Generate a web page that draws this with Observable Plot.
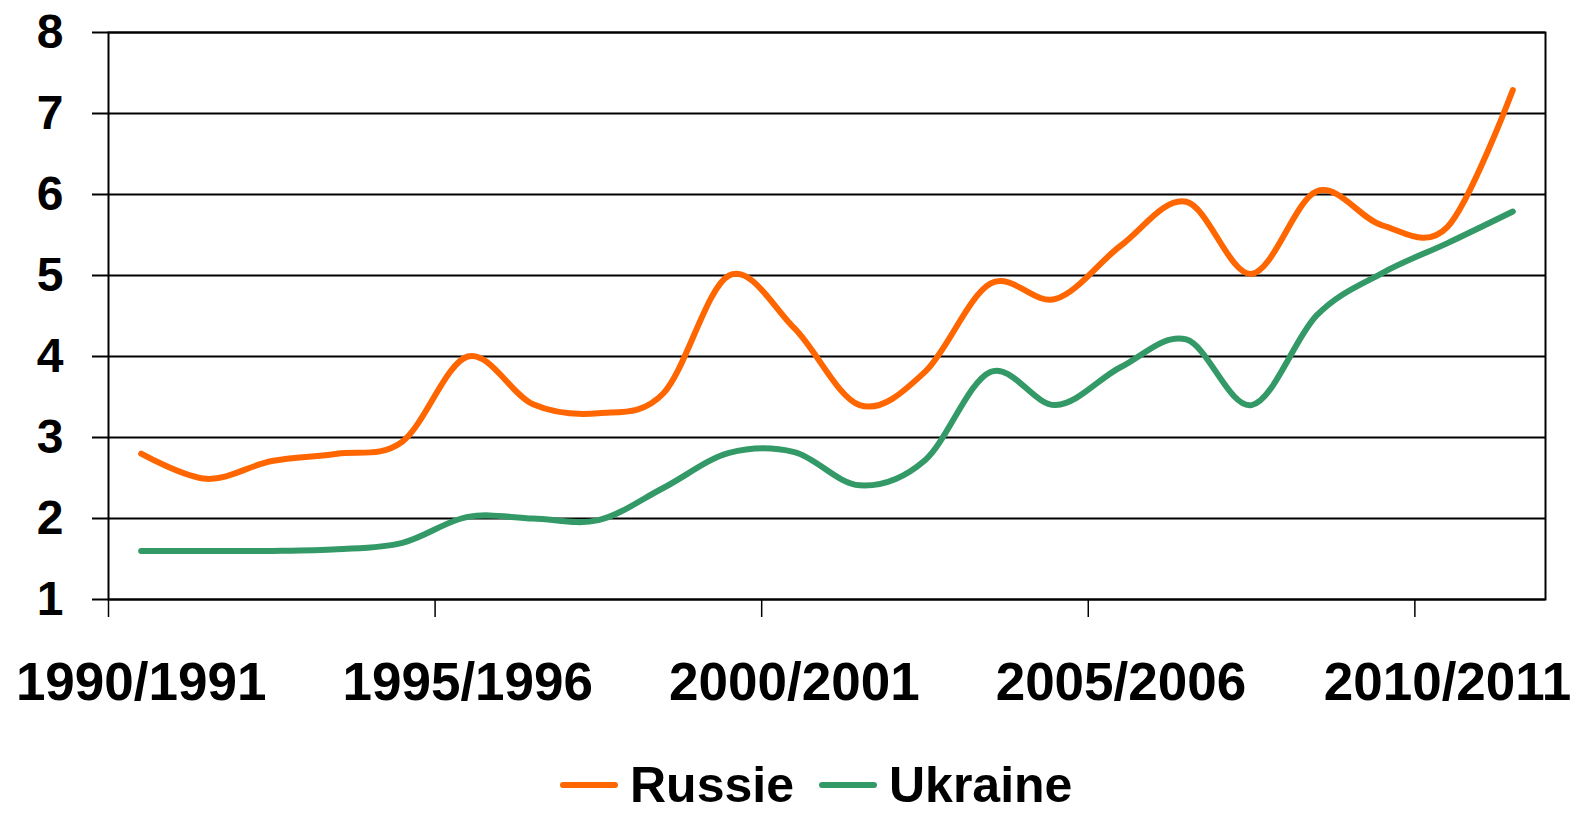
<!DOCTYPE html>
<html>
<head>
<meta charset="utf-8">
<script src="https://cdn.jsdelivr.net/npm/d3@7"></script>
<script src="https://cdn.jsdelivr.net/npm/@observablehq/plot@0.6"></script>
<style>
  html, body { margin: 0; padding: 0; background: #fff; }
  #wrap { position: relative; width: 1576px; height: 815px; overflow: hidden; font-family: "Liberation Sans", Arial, sans-serif; }
  #legend { position: absolute; top: 761px; left: 560px; display: flex; align-items: center; font-size: 50px; font-weight: bold; line-height: 48px; height: 48px; color: #000; white-space: nowrap; }
  .sw { display: inline-block; width: 58px; height: 6px; border-radius: 3px; margin-right: 12px; }
  .item { display: flex; align-items: center; margin-right: 25px; }
</style>
</head>
<body>
<div id="wrap"></div>
<script>
const seasons = ["1990/1991","1991/1992","1992/1993","1993/1994","1994/1995","1995/1996","1996/1997","1997/1998","1998/1999","1999/2000","2000/2001","2001/2002","2002/2003","2003/2004","2004/2005","2005/2006","2006/2007","2007/2008","2008/2009","2009/2010","2010/2011","2011/2012"];
const russie  = [2.80, 2.49, 2.71, 2.80, 2.95, 4.00, 3.41, 3.30, 3.55, 5.00, 4.35, 3.40, 3.81, 4.90, 4.71, 5.37, 5.91, 5.02, 6.04, 5.62, 5.60, 7.29];
const ukraine = [1.60, 1.60, 1.60, 1.62, 1.70, 2.02, 2.00, 1.98, 2.38, 2.81, 2.82, 2.41, 2.72, 3.81, 3.40, 3.87, 4.21, 3.40, 4.51, 5.03, 5.40, 5.79];
const seriesNames = ["Russie", "Ukraine"];
const seriesColors = ["#FF6600", "#339966"];
const yTicks = [1, 2, 3, 4, 5, 6, 7, 8];
const xLabels = ["1990/1991", "1995/1996", "2000/2001", "2005/2006", "2010/2011"];

const data = [];
seasons.forEach((s, i) => {
  data.push({i, season: s, series: "Russie", v: russie[i]});
  data.push({i, season: s, series: "Ukraine", v: ukraine[i]});
});
const labelIdx = xLabels.map(l => seasons.indexOf(l));
const tickIdx = labelIdx.map(i => i - 0.5);

const chart = Plot.plot({
  width: 1576,
  height: 740,
  marginLeft: 108,
  marginRight: 31,
  marginTop: 32,
  marginBottom: 141,
  x: {domain: [-0.5, seasons.length - 0.5]},
  y: {domain: [1, 8]},
  color: {domain: seriesNames, range: seriesColors},
  style: {fontFamily: "'Liberation Sans', Arial, sans-serif", fontWeight: "bold", color: "black", background: "white", overflow: "visible"},
  marks: [
    Plot.ruleY(yTicks, {stroke: "black", strokeWidth: 2}),
    Plot.frame({stroke: "black", strokeWidth: 2}),
    Plot.axisY(yTicks, {tickSize: 16, tickPadding: 29, tickFormat: d => String(d), fontSize: 48, fontWeight: "bold", strokeWidth: 2, label: null}),
    Plot.axisX(tickIdx, {tickSize: 18, tickFormat: () => "", strokeWidth: 1.5, label: null}),
    Plot.axisX(labelIdx, {tickSize: 0, tickPadding: 63, tickFormat: i => seasons[i], fontSize: 53, fontWeight: "bold", label: null}),
    Plot.line(data, {x: "i", y: "v", stroke: "series", z: "series", curve: "cardinal", strokeWidth: 6, strokeLinecap: "round", strokeLinejoin: "round"})
  ]
});

const wrap = document.getElementById("wrap");
wrap.appendChild(chart);
const legend = document.createElement("div");
legend.id = "legend";
seriesNames.forEach((n, k) => {
  const it = document.createElement("span");
  it.className = "item";
  const sw = document.createElement("span");
  sw.className = "sw";
  sw.style.background = seriesColors[k];
  it.appendChild(sw);
  it.appendChild(document.createTextNode(n));
  legend.appendChild(it);
});
wrap.appendChild(legend);
</script>
</body>
</html>
